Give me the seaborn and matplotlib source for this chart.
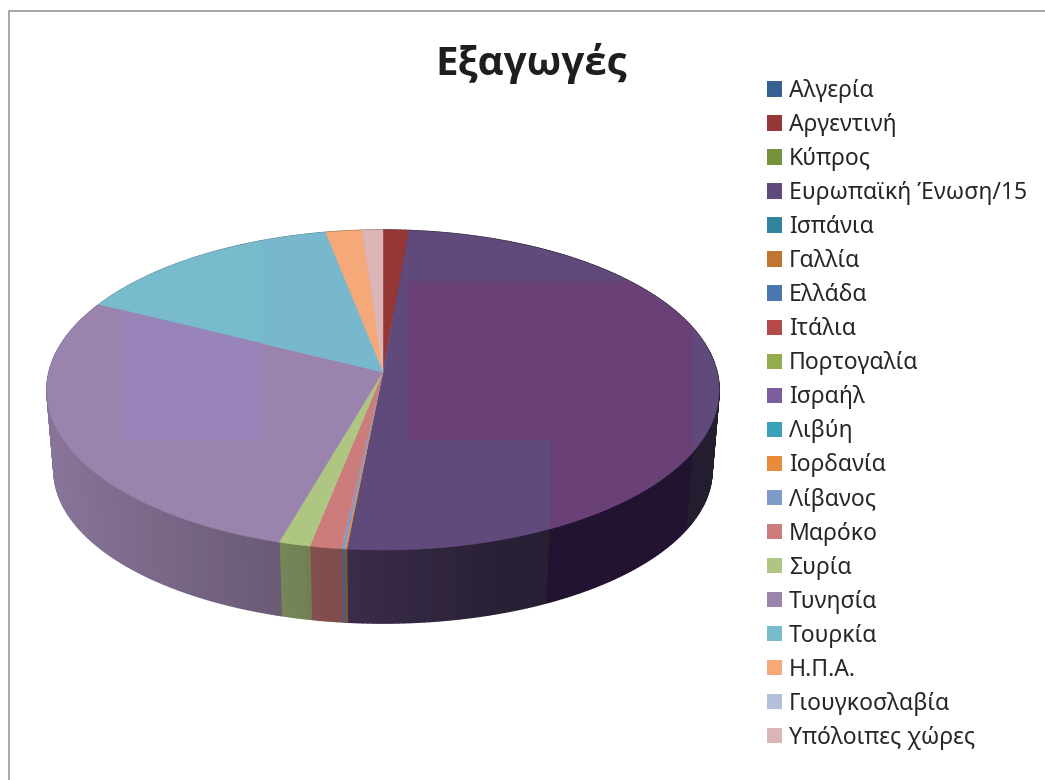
import numpy as np
import pandas as pd
import matplotlib
matplotlib.use("Agg")
import matplotlib.pyplot as plt
from matplotlib.patches import Patch, Polygon, Rectangle
from matplotlib.collections import PolyCollection
import seaborn as sns

# Export shares per destination, in percent, listed clockwise from twelve o'clock
countries = ["Αλγερία", "Αργεντινή", "Κύπρος", "Ευρωπαϊκή Ένωση/15", "Ισπάνια", "Γαλλία",
             "Ελλάδα", "Ιτάλια", "Πορτογαλία", "Ισραήλ", "Λιβύη", "Ιορδανία", "Λίβανος",
             "Μαρόκο", "Συρία", "Τυνησία", "Τουρκία", "Η.Π.Α.", "Γιουγκοσλαβία", "Υπόλοιπες χώρες"]
shares = [0.0, 1.38, 0.0, 50.1, 0.0, 0.0, 0.0, 0.0, 0.0, 0.0, 0.0, 0.08, 0.14,
          1.36, 1.35, 27.9, 14.5, 1.97, 0.0, 1.1]
colours = ["#376092", "#953735", "#76923c", "#604a7b", "#31859c", "#c27531", "#4a77b0",
           "#b54a48", "#93ad4d", "#7c5e9d", "#3ba1bb", "#e88b3b", "#7d9bc9", "#cc7c7b",
           "#aec682", "#9a84ad", "#78bbcd", "#f5a978", "#b3c0dc", "#dcb6b6"]

sns.set_theme(style="white")
plt.rcParams["font.family"] = ["Noto Sans", "DejaVu Sans"]
palette = sns.color_palette(colours)

df = pd.DataFrame({"country": countries, "share": shares})
df["end"] = df["share"].cumsum() / df["share"].sum() * 2 * np.pi
df["start"] = df["end"].shift(fill_value=0.0)

fig = plt.figure(figsize=(10.45, 7.8), dpi=100, facecolor="white")
ax = fig.add_axes([0, 0, 1, 1])
ax.set_xlim(0, 1045)
ax.set_ylim(780, 0)
ax.axis("off")

# Perspective projection of the tilted disc
CX, TILT = 383.0, 0.1125


def project(theta, half_w, half_h, cy):
    across, toward = np.sin(theta), -np.cos(theta)
    w = 1 - TILT * toward
    return np.column_stack((CX + half_w * across / w, cy + half_h * toward / w))


def top_rim(theta):
    return project(theta, 334.0, 158.0, 372.0)


def bottom_rim(theta):
    return project(theta, 327.0, 151.0, 453.0)


# Side wall shading falls off from left to right
shade_x = [50, 280, 350, 500, 700]
shade_f = [0.88, 0.68, 0.60, 0.43, 0.38]

strips, strip_colours = [], []
for row, col in zip(df.itertuples(), palette):
    if row.share == 0:
        continue
    steps = max(2, int((row.end - row.start) / 0.014))
    ts = np.linspace(row.start, row.end, steps + 1)
    up, low = top_rim(ts), bottom_rim(ts)
    for i in range(steps):
        strips.append([up[i], up[i + 1], low[i + 1], low[i]])
        mid = up[i:i + 2, 0].mean()
        c = np.array(col) * np.interp(mid, shade_x, shade_f)
        if row.country == "Ευρωπαϊκή Ένωση/15" and 550 <= mid <= 693:
            c = np.array(matplotlib.colors.to_rgb("#221430"))
        strip_colours.append(c)
ax.add_collection(PolyCollection(strips, facecolors=strip_colours, edgecolors=strip_colours,
                                 linewidths=1.0, zorder=2))

# Top face of each slice
faces = {}
for row, col in zip(df.itertuples(), palette):
    if row.share == 0:
        continue
    ts = np.linspace(row.start, row.end, max(3, int((row.end - row.start) / 0.01)))
    pts = np.vstack(([[CX, 372.0]], top_rim(ts)))
    faces[row.country] = ax.add_patch(Polygon(pts, closed=True, facecolor=col, edgecolor=col,
                                              linewidth=0.3, zorder=3))

# Tinted panels on the two largest slices
panels = [("Ευρωπαϊκή Ένωση/15", 407, 281, 693, 440, "#6a4176"),
          ("Ευρωπαϊκή Ένωση/15", 550, 440, 693, 610, "#6a4176"),
          ("Τυνησία", 120, 290, 262, 440, "#9884b8"),
          ("Τουρκία", 262, 230, 383, 380, "#78b8cf")]
for name, x0, y0, x1, y1, tint in panels:
    panel = ax.add_patch(Rectangle((x0, y0), x1 - x0, y1 - y0, facecolor=tint,
                                   edgecolor="none", zorder=4))
    panel.set_clip_path(faces[name])

# Outer frame, open towards the right and bottom edges
ax.plot([8.5, 8.5, 1050], [790, 10.5, 10.5], color="#8f8f95", lw=1.1, zorder=1, clip_on=False)

ax.text(531, 63, "Εξαγωγές", fontsize=29, fontweight="bold", family=["Open Sans", "DejaVu Sans"],
        color="#1e1e1e", ha="center", va="center")

handles = [Patch(facecolor=c, edgecolor="none", label=n) for c, n in zip(palette, countries)]
ax.legend(handles=handles, loc="upper left", bbox_to_anchor=(767 / 1045, 1 - 79 / 780),
          frameon=False, fontsize=16.55, labelcolor="#262626", handlelength=0.655, handleheight=0.655,
          handletextpad=0.3, labelspacing=0.437, borderpad=0, borderaxespad=0)

fig.savefig("out.png", dpi=100, facecolor="white")
